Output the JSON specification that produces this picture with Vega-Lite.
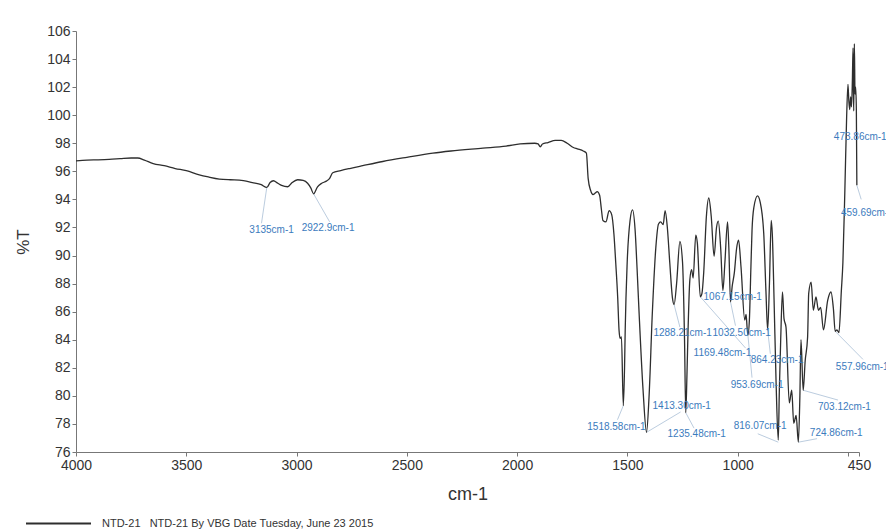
{
  "$schema": "https://vega.github.io/schema/vega-lite/v6.json",
  "width": 783,
  "height": 421,
  "autosize": {"type": "none"},
  "padding": {"left": 76, "top": 31, "right": 27, "bottom": 79},
  "background": "#ffffff",
  "config": {
    "view": {"stroke": null},
    "font": "Liberation Sans",
    "axis": {"grid": false, "domainColor": "#777777", "tickColor": "#777777", "labelColor": "#333333", "titleColor": "#333333", "labelFont": "Liberation Sans", "titleFont": "Liberation Sans", "titleFontWeight": "normal"}
  },
  "datasets": {
    "spectrum": [
      {"wn": 4000, "t": 96.75}, {"wn": 3950, "t": 96.8}, {"wn": 3900, "t": 96.82}, {"wn": 3850, "t": 96.85},
      {"wn": 3800, "t": 96.9}, {"wn": 3750, "t": 96.95}, {"wn": 3720, "t": 96.95}, {"wn": 3690, "t": 96.8},
      {"wn": 3650, "t": 96.55}, {"wn": 3600, "t": 96.4}, {"wn": 3550, "t": 96.2}, {"wn": 3500, "t": 96.05},
      {"wn": 3441, "t": 95.75}, {"wn": 3400, "t": 95.6}, {"wn": 3350, "t": 95.45}, {"wn": 3300, "t": 95.4},
      {"wn": 3259, "t": 95.38}, {"wn": 3200, "t": 95.2}, {"wn": 3160, "t": 95.05}, {"wn": 3135, "t": 94.85},
      {"wn": 3120, "t": 95.2}, {"wn": 3105, "t": 95.33}, {"wn": 3085, "t": 95.15}, {"wn": 3068, "t": 95.0},
      {"wn": 3040, "t": 94.9}, {"wn": 3020, "t": 95.2}, {"wn": 2995, "t": 95.4}, {"wn": 2970, "t": 95.35},
      {"wn": 2950, "t": 95.15}, {"wn": 2935, "t": 94.8}, {"wn": 2922.9, "t": 94.4}, {"wn": 2905, "t": 94.9},
      {"wn": 2886, "t": 95.15}, {"wn": 2865, "t": 95.3}, {"wn": 2850, "t": 95.5}, {"wn": 2836, "t": 95.9},
      {"wn": 2800, "t": 96.05}, {"wn": 2759, "t": 96.2}, {"wn": 2700, "t": 96.4}, {"wn": 2609, "t": 96.7},
      {"wn": 2500, "t": 97.0}, {"wn": 2382, "t": 97.3}, {"wn": 2300, "t": 97.45}, {"wn": 2155, "t": 97.65},
      {"wn": 2050, "t": 97.8}, {"wn": 1986, "t": 97.95}, {"wn": 1920, "t": 98.0}, {"wn": 1905, "t": 97.95},
      {"wn": 1895, "t": 97.75}, {"wn": 1885, "t": 97.95}, {"wn": 1860, "t": 98.05}, {"wn": 1827, "t": 98.2},
      {"wn": 1800, "t": 98.2}, {"wn": 1773, "t": 98.0}, {"wn": 1745, "t": 97.7}, {"wn": 1727, "t": 97.6},
      {"wn": 1700, "t": 97.45}, {"wn": 1686, "t": 97.3}, {"wn": 1678, "t": 95.5}, {"wn": 1667, "t": 94.65},
      {"wn": 1656, "t": 94.35}, {"wn": 1646, "t": 94.45}, {"wn": 1637, "t": 94.55}, {"wn": 1626, "t": 94.3},
      {"wn": 1618, "t": 93.3}, {"wn": 1611, "t": 92.5}, {"wn": 1597, "t": 92.4}, {"wn": 1583, "t": 93.2},
      {"wn": 1571, "t": 92.9}, {"wn": 1561, "t": 91.5}, {"wn": 1553, "t": 89.5}, {"wn": 1544, "t": 87.0},
      {"wn": 1538, "t": 84.7}, {"wn": 1533, "t": 84.1}, {"wn": 1527, "t": 84.2}, {"wn": 1518.58, "t": 79.3},
      {"wn": 1513, "t": 82.0}, {"wn": 1510, "t": 84.7}, {"wn": 1501, "t": 89.5}, {"wn": 1488, "t": 92.5},
      {"wn": 1477, "t": 93.25}, {"wn": 1465, "t": 91.8}, {"wn": 1456, "t": 89.0}, {"wn": 1447, "t": 85.9},
      {"wn": 1429, "t": 80.4}, {"wn": 1413.3, "t": 77.4}, {"wn": 1402, "t": 79.9}, {"wn": 1387, "t": 85.9},
      {"wn": 1371, "t": 90.6}, {"wn": 1359, "t": 92.25}, {"wn": 1349, "t": 92.4}, {"wn": 1338, "t": 92.2},
      {"wn": 1329, "t": 93.2}, {"wn": 1319, "t": 92.0}, {"wn": 1308, "t": 89.5}, {"wn": 1296, "t": 87.0},
      {"wn": 1288.21, "t": 86.5}, {"wn": 1277, "t": 88.0}, {"wn": 1262, "t": 91.0}, {"wn": 1250, "t": 89.5},
      {"wn": 1241, "t": 84.0}, {"wn": 1235.48, "t": 78.8}, {"wn": 1230, "t": 81.5}, {"wn": 1225, "t": 84.7},
      {"wn": 1217, "t": 88.25}, {"wn": 1209, "t": 89.0}, {"wn": 1202, "t": 88.4}, {"wn": 1190, "t": 91.46},
      {"wn": 1183, "t": 90.9}, {"wn": 1169.48, "t": 87.06}, {"wn": 1162, "t": 87.3}, {"wn": 1154, "t": 88.8},
      {"wn": 1142, "t": 92.77}, {"wn": 1131, "t": 94.1}, {"wn": 1120, "t": 92.8}, {"wn": 1107, "t": 89.95},
      {"wn": 1096, "t": 92.0}, {"wn": 1088, "t": 92.45}, {"wn": 1077, "t": 90.5}, {"wn": 1067.15, "t": 87.5},
      {"wn": 1058, "t": 89.5}, {"wn": 1046, "t": 92.4}, {"wn": 1040, "t": 90.5}, {"wn": 1032.5, "t": 86.7},
      {"wn": 1025, "t": 87.8}, {"wn": 1015, "t": 88.8}, {"wn": 1005, "t": 90.5}, {"wn": 996, "t": 91.1},
      {"wn": 985, "t": 89.2}, {"wn": 968, "t": 85.4}, {"wn": 962, "t": 85.8}, {"wn": 957, "t": 84.8},
      {"wn": 953.69, "t": 84.33}, {"wn": 947, "t": 85.4}, {"wn": 940, "t": 89.2}, {"wn": 935, "t": 91.8},
      {"wn": 927, "t": 93.4}, {"wn": 910, "t": 94.25}, {"wn": 898, "t": 93.8}, {"wn": 882, "t": 91.6},
      {"wn": 872, "t": 87.5}, {"wn": 864.23, "t": 84.7}, {"wn": 856, "t": 88.0}, {"wn": 848, "t": 92.5},
      {"wn": 843, "t": 91.5}, {"wn": 835, "t": 86.8}, {"wn": 826, "t": 81.0}, {"wn": 816.07, "t": 76.85},
      {"wn": 811, "t": 80.5}, {"wn": 805, "t": 84.0}, {"wn": 797, "t": 87.4}, {"wn": 790, "t": 85.5},
      {"wn": 781, "t": 84.9}, {"wn": 766, "t": 79.5}, {"wn": 755, "t": 80.4}, {"wn": 746, "t": 78.05},
      {"wn": 735, "t": 78.6}, {"wn": 724.86, "t": 76.7}, {"wn": 718, "t": 80.0}, {"wn": 713, "t": 84.0},
      {"wn": 703.12, "t": 80.4}, {"wn": 694, "t": 82.5}, {"wn": 683, "t": 84.2}, {"wn": 678, "t": 87.3},
      {"wn": 667, "t": 88.1}, {"wn": 657, "t": 86.1}, {"wn": 645, "t": 87.06}, {"wn": 634, "t": 86.1},
      {"wn": 624, "t": 86.3}, {"wn": 611, "t": 84.7}, {"wn": 592, "t": 86.8}, {"wn": 577, "t": 87.4},
      {"wn": 566, "t": 86.2}, {"wn": 557.96, "t": 84.6}, {"wn": 550, "t": 84.7}, {"wn": 541, "t": 84.5},
      {"wn": 530, "t": 87.5}, {"wn": 523, "t": 89.5}, {"wn": 514, "t": 94.7}, {"wn": 506, "t": 99.9},
      {"wn": 500, "t": 102.2}, {"wn": 496, "t": 101.0}, {"wn": 492, "t": 100.4}, {"wn": 488, "t": 101.3},
      {"wn": 484, "t": 100.6}, {"wn": 480, "t": 102.5}, {"wn": 477, "t": 104.8}, {"wn": 475, "t": 101.5},
      {"wn": 473.86, "t": 100.3}, {"wn": 471, "t": 105.1}, {"wn": 468, "t": 101.5}, {"wn": 465, "t": 102.0},
      {"wn": 462, "t": 100.4}, {"wn": 459.69, "t": 95.0}
    ],
    "leaders": [
      {"wn": 3135, "t": 94.85, "wn2": 3159, "t2": 92.3},
      {"wn": 2922.9, "t": 94.4, "wn2": 2850, "t2": 92.4},
      {"wn": 1518.58, "t": 79.3, "wn2": 1545, "t2": 78.3},
      {"wn": 1413.3, "t": 77.4, "wn2": 1259, "t2": 78.85},
      {"wn": 1235.48, "t": 78.8, "wn2": 1198, "t2": 77.7},
      {"wn": 1288.21, "t": 86.5, "wn2": 1262, "t2": 84.9},
      {"wn": 1169.48, "t": 87.06, "wn2": 964, "t2": 83.4},
      {"wn": 1032.5, "t": 86.7, "wn2": 1010, "t2": 85.0},
      {"wn": 953.69, "t": 84.33, "wn2": 935, "t2": 81.3},
      {"wn": 864.23, "t": 84.7, "wn2": 852, "t2": 83.0},
      {"wn": 816.07, "t": 76.7, "wn2": 909, "t2": 77.3},
      {"wn": 724.86, "t": 76.7, "wn2": 640, "t2": 76.95},
      {"wn": 703.12, "t": 80.4, "wn2": 545, "t2": 79.7},
      {"wn": 557.96, "t": 84.6, "wn2": 432, "t2": 82.6},
      {"wn": 459.69, "t": 95.0, "wn2": 440, "t2": 94.0}
    ],
    "labels": [
      {"wn": 3214, "t": 91.82, "label": "3135cm-1"},
      {"wn": 2977, "t": 91.96, "label": "2922.9cm-1"},
      {"wn": 1682, "t": 77.77, "label": "1518.58cm-1"},
      {"wn": 1386, "t": 79.27, "label": "1413.30cm-1"},
      {"wn": 1318, "t": 77.28, "label": "1235.48cm-1"},
      {"wn": 1382, "t": 84.47, "label": "1288.21cm-1"},
      {"wn": 1114, "t": 84.47, "label": "1032.50cm-1"},
      {"wn": 1155, "t": 87.04, "label": "1067.15cm-1"},
      {"wn": 1200, "t": 83.05, "label": "1169.48cm-1"},
      {"wn": 941, "t": 82.55, "label": "864.23cm-1"},
      {"wn": 1032, "t": 80.77, "label": "953.69cm-1"},
      {"wn": 1018, "t": 77.85, "label": "816.07cm-1"},
      {"wn": 673, "t": 77.35, "label": "724.86cm-1"},
      {"wn": 636, "t": 79.2, "label": "703.12cm-1"},
      {"wn": 555, "t": 82.05, "label": "557.96cm-1"},
      {"wn": 532, "t": 93.03, "label": "459.69cm-1"},
      {"wn": 564, "t": 98.44, "label": "473.86cm-1"}
    ]
  },
  "encoding": {
    "x": {
      "field": "wn", "type": "quantitative",
      "scale": {"domain": [450, 4000], "reverse": true, "nice": false, "zero": false},
      "axis": {"title": "cm-1", "titleFontSize": 18, "titlePadding": 13, "values": [4000, 3500, 3000, 2500, 2000, 1500, 1000, 500, 450], "format": "d", "labelExpr": "datum.value == 500 ? '' : datum.label", "labelFontSize": 14, "tickSize": 4, "labelPadding": 2, "labelFlush": false, "labelOverlap": false}
    },
    "y": {
      "field": "t", "type": "quantitative",
      "scale": {"domain": [76, 106], "nice": false, "zero": false},
      "axis": {"title": "%T", "titleFontSize": 17, "titlePadding": 14, "values": [76, 78, 80, 82, 84, 86, 88, 90, 92, 94, 96, 98, 100, 102, 104, 106], "format": "d", "labelFontSize": 14, "tickSize": 4, "labelPadding": 2, "labelOverlap": false, "labelFlush": false}
    }
  },
  "layer": [
    {
      "data": {"name": "leaders"},
      "mark": {"type": "rule", "color": "#a9bfd6", "strokeWidth": 0.8},
      "encoding": {
        "x2": {"field": "wn2"},
        "y2": {"field": "t2"}
      }
    },
    {
      "data": {"name": "spectrum"},
      "mark": {"type": "line", "strokeWidth": 1.3, "interpolate": "monotone"},
      "encoding": {
        "color": {
          "datum": "NTD-21\u00a0\u00a0\u00a0NTD-21 By VBG Date Tuesday, June 23 2015",
          "type": "nominal",
          "scale": {"range": ["#2e2e2e"]},
          "legend": {"orient": "none", "legendX": -51, "legendY": 459, "title": null, "symbolType": "stroke", "symbolSize": 4225, "symbolStrokeWidth": 2, "labelFontSize": 11, "labelColor": "#333333", "labelLimit": 600, "labelOffset": 10, "padding": 0}
        }
      }
    },
    {
      "data": {"name": "labels"},
      "mark": {"type": "text", "align": "left", "baseline": "middle", "fontSize": 10, "color": "#3b7bbd", "font": "Liberation Sans"},
      "encoding": {
        "text": {"field": "label"}
      }
    }
  ]
}
